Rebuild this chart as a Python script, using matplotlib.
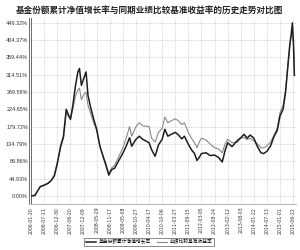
import numpy as np
import pandas as pd
import matplotlib
matplotlib.use('Agg')
import matplotlib.pyplot as plt

plt.rcParams['font.family'] = ['Noto Sans CJK SC', 'DejaVu Sans']

title = '基金份额累计净值增长率与同期业绩比较基准收益率的历史走势对比图'
fund_label = '基金份额累计净值增长率'
bench_label = '业绩比较基准收益率'

dates = ['2006-01-20', '2006-03-10', '2006-04-20', '2006-05-20', '2006-07-11', '2006-08-30',
         '2006-10-10', '2006-11-20', '2006-12-30', '2007-02-10', '2007-03-20', '2007-04-25',
         '2007-05-30', '2007-06-20', '2007-07-20', '2007-08-25', '2007-09-25', '2007-10-16',
         '2007-11-10', '2007-12-09', '2008-01-10', '2008-02-05', '2008-03-10', '2008-04-20',
         '2008-05-29', '2008-07-10', '2008-08-20', '2008-09-25', '2008-11-04', '2008-12-10',
         '2009-01-20', '2009-03-10', '2009-05-08', '2009-06-20', '2009-08-04', '2009-09-01',
         '2009-10-27', '2009-12-10', '2010-01-25', '2010-04-17', '2010-05-20', '2010-07-05',
         '2010-08-20', '2010-10-06', '2010-11-10', '2010-12-20', '2011-02-01', '2011-03-27',
         '2011-05-10', '2011-06-20', '2011-07-25', '2011-09-15', '2011-10-25', '2011-12-05',
         '2012-01-06', '2012-02-05', '2012-03-05', '2012-05-05', '2012-06-25', '2012-08-24',
         '2012-10-15', '2012-12-03', '2013-01-10', '2013-02-12', '2013-04-10', '2013-06-25',
         '2013-08-03', '2013-09-15', '2013-10-25', '2013-12-05', '2014-01-22', '2014-03-10',
         '2014-04-25', '2014-06-01', '2014-07-13', '2014-08-30', '2014-10-15', '2014-11-25',
         '2015-01-01', '2015-02-10', '2015-03-15', '2015-04-15', '2015-05-10', '2015-05-28',
         '2015-06-12', '2015-06-26', '2015-07-08']

fund = [0, 1, 15, 24, 28, 33,
        40, 52, 85, 129, 155, 225,
        208, 199, 234, 287, 322, 331,
        287, 304, 322, 261, 230, 199,
        173, 129, 103, 81, 54, 68,
        72, 90, 111, 129, 151, 129,
        147, 155, 147, 138, 120, 103,
        133, 147, 173, 155, 160, 165,
        158, 148, 155, 134, 120, 110,
        92, 100, 110, 112, 105, 106,
        100, 88, 118, 138, 128, 145,
        151, 160, 150, 158, 150, 128,
        112, 110, 116, 130, 155, 170,
        208, 225, 270, 340, 395, 420,
        449.32, 400, 313]

bench = [0, 3, 15, 25, 28, 32,
         40, 55, 88, 125, 150, 215,
         205, 200, 225, 260, 275, 280,
         250, 262, 270, 235, 215, 190,
         170, 130, 105, 85, 58, 72,
         80, 100, 125, 150, 180, 155,
         180, 190, 182, 180, 150, 140,
         165, 175, 205, 190, 195, 200,
         195, 185, 190, 165, 150, 138,
         125, 140, 150, 145, 135, 125,
         122, 112, 135, 147, 138, 140,
         150, 152, 146, 150, 143, 135,
         125, 125, 130, 140, 158, 175,
         217, 235, 275, 340, 390, 415,
         430, 395, 330]

tick_dates = ['2006-01-20', '2006-07-11', '2006-12-30', '2007-06-20', '2007-12-09',
              '2008-05-29', '2008-11-17', '2009-05-08', '2009-10-27', '2010-04-17',
              '2010-10-06', '2011-03-27', '2011-09-15', '2012-03-05', '2012-08-24',
              '2013-02-12', '2013-08-03', '2014-01-22', '2014-07-13', '2015-01-01',
              '2015-06-22']
y_ticks = [0, 44.93, 89.86, 134.79, 179.72, 224.65, 269.58, 314.51, 359.44, 404.37, 449.32]

x = pd.to_datetime(dates)
xt = pd.to_datetime(tick_dates)

fig = plt.figure(figsize=(3.0, 2.5), dpi=100)
ax = fig.add_axes([0.103, 0.184, 0.884, 0.744])

l_bench, = ax.plot(x, bench, color='#8a8a8a', lw=0.8, label=bench_label, zorder=3)
l_fund, = ax.plot(x, fund, color='#1e1e1e', lw=1.1, label=fund_label, zorder=4)

ax.set_xlim(pd.Timestamp('2006-01-16'), pd.Timestamp('2015-07-31'))
ax.set_ylim(-21, 462)
ax.set_xticks(xt)
ax.set_xticklabels(tick_dates, rotation=90, fontsize=3.3, family='DejaVu Sans', color='#333333')
ax.set_yticks(y_ticks)
ax.set_yticklabels(['%.2f%%' % v for v in y_ticks], fontsize=4, family='Liberation Sans', color='#333333')
ax.tick_params(length=0, pad=2)

ax.grid(True, color='#b5b5b5', linestyle=(0, (1, 1.5)), linewidth=0.5)
for s in ['top', 'right']:
    ax.spines[s].set_visible(False)
ax.spines['left'].set_color('#555555')
ax.spines['left'].set_linewidth(0.6)
ax.spines['bottom'].set_color('#aaaaaa')
ax.spines['bottom'].set_linewidth(0.6)
# double line on the left edge
ax.plot([-0.008, -0.008], [0, 1], transform=ax.transAxes, clip_on=False, color='#555555', lw=0.6)

fig.text(0.5, 0.96, title, ha='center', va='center', fontsize=6.2, fontweight='bold', color='#222222')

leg = fig.legend(handles=[l_fund, l_bench], loc='center', bbox_to_anchor=(0.497, 0.032), ncol=2,
                 fontsize=3.4, frameon=True, fancybox=False, edgecolor='#333333',
                 handlelength=2.2, columnspacing=1.2, borderpad=0.4, handletextpad=0.5)
leg.get_frame().set_linewidth(0.5)

fig.savefig('out.png', dpi=100)
